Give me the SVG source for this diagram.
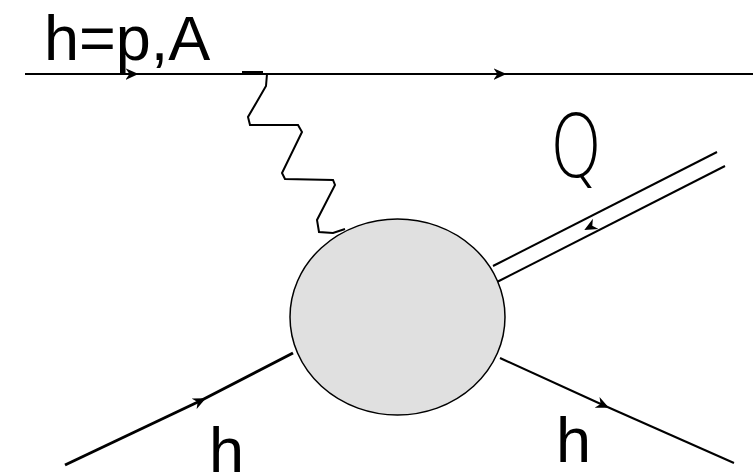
<svg xmlns="http://www.w3.org/2000/svg" width="753" height="474" viewBox="0 0 753 474">
<style>
.ln{stroke:#000;stroke-width:2;fill:none}
.lbl{font-family:"Liberation Sans",Arial,sans-serif;font-size:63px;fill:#000}
</style>
<defs>
<marker id="ah" viewBox="0 0 10 10" refX="5" refY="5" markerWidth="13" markerHeight="13" markerUnits="userSpaceOnUse" orient="auto">
<path d="M0,0.5 L10,5 L0,9.5 L3,5 z" fill="#000"/>
</marker>
</defs>
<rect width="753" height="474" fill="#fff"/>
<g id="connectors">
<path class="ln" d="M25,74 L132,74" marker-end="url(#ah)"/>
<path class="ln" d="M132,74 L500,74" marker-end="url(#ah)"/>
<path class="ln" d="M500,74 L753,74"/>
<path d="M242,73 L263,73" stroke="#000" stroke-width="4"/>
<path class="ln" stroke-width="2.3" d="M267,74 L266,86 L248,117 L250,125 L298,125 L302,132 L282,173 L285,179 L333,180 L335,185 L317,220 L319,232 L333,233 L345,229"/>
<path d="M65,465 L200,401" stroke="#000" stroke-width="3" fill="none" marker-end="url(#ah)"/>
<path d="M200,401 L293,353" stroke="#000" stroke-width="3" fill="none"/>
<path class="ln" d="M500,358 L603,405" marker-end="url(#ah)"/>
<path class="ln" d="M603,405 L734,463"/>
<path class="ln" d="M493,266 L717,152"/>
<path class="ln" d="M497,282 L725,166"/>
<path d="M601,221 L590,227" stroke="none" fill="none" marker-end="url(#ah)"/>
</g>
<g id="blob">
<ellipse cx="397.5" cy="317" rx="107.5" ry="98" fill="#e0e0e0" stroke="#000" stroke-width="1.5"/>
</g>
<g id="labels">
<text class="lbl" x="44" y="60">h=p,A</text>
<text x="550" y="177" font-family="'DejaVu Sans ExtraLight','DejaVu Sans','Liberation Sans',sans-serif" font-weight="200" font-size="88" textLength="52" lengthAdjust="spacingAndGlyphs">Q</text>
<text class="lbl" x="209" y="472">h</text>
<text class="lbl" x="556" y="462">h</text>
</g>
</svg>
